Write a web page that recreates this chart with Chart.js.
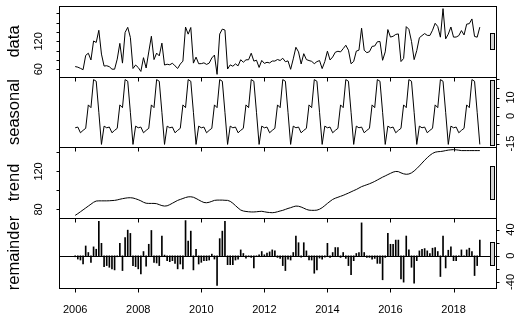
<!DOCTYPE html>
<html><head><meta charset="utf-8">
<script src="https://cdn.jsdelivr.net/npm/chart.js@4.4.1/dist/chart.umd.min.js"></script>
<style>
html,body{margin:0;padding:0;background:#fff;}
#wrap{position:relative;width:528px;height:323px;overflow:hidden;background:#fff;}
canvas{position:absolute;left:0;top:0;}
</style></head><body>
<div id="wrap">
<canvas id="c0" width="528" height="323"></canvas>
<canvas id="c1" width="528" height="323"></canvas>
<canvas id="c2" width="528" height="323"></canvas>
<canvas id="c3" width="528" height="323"></canvas>
</div>
<script>
// ---- data (monthly, Jan 2006 .. Nov 2018) ----
const startYear = 2006;
const yearTicks = [2006, 2008, 2010, 2012, 2014, 2016, 2018];
const panelNames = ["data", "seasonal", "trend", "remainder"];

const dataValues = [
 65.8, 64.5, 61.9, 59.1, 89.8, 94.5, 80.0, 120.8, 117.6, 143.8, 92.6, 66.9,
 67.6, 65.5, 60.2, 60.1, 81.8, 115.7, 73.2, 139.2, 150.2, 128.5, 61.6, 69.1,
 63.8, 55.3, 84.9, 62.7, 97.2, 131.0, 80.8, 94.7, 88.8, 116.2, 69.1, 70.8,
 69.6, 73.0, 67.3, 61.7, 71.2, 77.5, 150.8, 135.5, 149.8, 73.2, 86.1, 71.9,
 72.1, 73.8, 70.4, 73.2, 84.3, 90.5, 49.0, 135.7, 146.3, 144.4, 60.5, 69.4,
 66.5, 71.5, 67.4, 80.5, 75.1, 80.3, 80.5, 94.5, 77.5, 79.5, 63.9, 79.0,
 72.6, 75.0, 73.6, 77.7, 77.6, 81.0, 78.8, 83.7, 76.2, 78.0, 59.9, 82.3,
 107.3, 97.3, 71.4, 93.5, 80.8, 78.7, 77.0, 72.0, 76.4, 78.7, 61.4, 76.5,
 98.9, 80.0, 86.4, 96.6, 98.7, 97.3, 104.3, 111.7, 101.0, 71.8, 76.9, 99.0,
 101.1, 148.3, 100.9, 95.7, 97.8, 109.2, 110.0, 119.1, 119.7, 79.3, 97.4, 145.4,
 129.2, 130.9, 134.9, 136.0, 76.6, 83.2, 151.7, 146.0, 119.7, 80.7, 100.1, 127.8,
 132.4, 136.8, 132.9, 132.7, 143.9, 158.9, 151.8, 129.0, 190.4, 125.4, 135.6, 150.9,
 129.1, 129.3, 132.3, 143.2, 133.8, 157.0, 158.1, 168.2, 130.6, 129.0, 150.6
];

const seasonalValues = [
 -6.4, -6.0, -9.1, -7.8, -6.7, 6.0, 4.5, 19.7, 18.8, 2.0, -15.4, -5.5,
 -6.4, -6.0, -9.1, -7.8, -6.7, 6.0, 4.5, 19.7, 18.8, 2.0, -15.4, -5.5,
 -6.4, -6.0, -9.1, -7.8, -6.7, 6.0, 4.5, 19.7, 18.8, 2.0, -15.4, -5.5,
 -6.4, -6.0, -9.1, -7.8, -6.7, 6.0, 4.5, 19.7, 18.8, 2.0, -15.4, -5.5,
 -6.4, -6.0, -9.1, -7.8, -6.7, 6.0, 4.5, 19.7, 18.8, 2.0, -15.4, -5.5,
 -6.4, -6.0, -9.1, -7.8, -6.7, 6.0, 4.5, 19.7, 18.8, 2.0, -15.4, -5.5,
 -6.4, -6.0, -9.1, -7.8, -6.7, 6.0, 4.5, 19.7, 18.8, 2.0, -15.4, -5.5,
 -6.4, -6.0, -9.1, -7.8, -6.7, 6.0, 4.5, 19.7, 18.8, 2.0, -15.4, -5.5,
 -6.4, -6.0, -9.1, -7.8, -6.7, 6.0, 4.5, 19.7, 18.8, 2.0, -15.4, -5.5,
 -6.4, -6.0, -9.1, -7.8, -6.7, 6.0, 4.5, 19.7, 18.8, 2.0, -15.4, -5.5,
 -6.4, -6.0, -9.1, -7.8, -6.7, 6.0, 4.5, 19.7, 18.8, 2.0, -15.4, -5.5,
 -6.4, -6.0, -9.1, -7.8, -6.7, 6.0, 4.5, 19.7, 18.8, 2.0, -15.4, -5.5,
 -6.4, -6.0, -9.1, -7.8, -6.7, 6.0, 4.5, 19.7, 18.8, 2.0, -15.4
];

const trendValues = [
 73.7, 75.5, 77.5, 79.5, 81.5, 83.5, 85.5, 87.5, 88.8, 89.0, 89.0, 89.0,
 89.0, 89.1, 89.3, 89.5, 90.0, 90.7, 91.3, 91.8, 92.2, 92.3, 92.0, 91.2,
 90.2, 89.0, 87.5, 86.5, 86.3, 86.3, 86.3, 86.0, 85.0, 84.0, 83.5, 83.8,
 85.0, 86.5, 88.0, 89.5, 90.5, 91.5, 92.5, 93.2, 93.3, 92.8, 91.5, 90.0,
 88.5, 87.3, 87.0, 87.5, 88.5, 89.5, 89.8, 89.8, 89.8, 89.6, 89.5, 88.5,
 86.5, 84.0, 81.5, 79.3, 78.3, 77.8, 77.5, 77.3, 77.3, 77.5, 77.8, 78.0,
 77.5, 77.0, 76.7, 76.5, 76.8, 77.5, 78.3, 79.0, 80.0, 81.0, 81.8, 82.8,
 83.5, 83.3, 82.5, 81.3, 80.0, 79.2, 79.0, 79.0, 79.2, 80.2, 81.8, 84.0,
 86.3, 88.5, 90.5, 91.8, 92.8, 93.8, 94.8, 96.0, 97.2, 98.5, 99.8, 101.0,
 102.5, 104.0, 105.0, 106.0, 107.0, 108.2, 109.5, 111.0, 112.5, 114.0, 115.3, 116.7,
 118.0, 119.3, 120.0, 119.8, 118.5, 117.5, 117.0, 117.3, 118.5, 120.5, 123.0, 125.8,
 128.8, 131.8, 134.5, 137.0, 139.0, 140.3, 140.8, 141.0, 141.4, 142.0, 142.5, 142.8,
 143.0, 142.8, 142.4, 142.0, 142.0, 142.0, 142.0, 142.0, 142.0, 142.0, 142.0
];

const remainderValues = [
 -1.5, -5, -6.5, -12.6, 15, 5, -10, 13.6, 10, 52.8, 19, -16.6,
 -15, -17.6, -20, -21.6, -1.5, 19, -22.6, 27.7, 39.2, 34.2, -15, -16.6,
 -20, -27.7, 6.5, -16, 17.6, 38.7, -10, -11, -15, 30.2, 1, -7.5,
 -9, -7.5, -11.6, -20, -12.6, -20, 53.8, 22.6, 37.7, -21.6, 10, -12.6,
 -10, -7.5, -7.5, -6.5, 2.5, -5, -45.3, 26.2, 37.7, 52.8, -13.6, -13.6,
 -13.6, -6.5, -5, 9, 3.5, -3.5, -1.5, -2.5, -18.6, 0, 1.5, 6.5,
 1.5, 4, 6, 9, 7.5, -2.5, -4, -15, -22.6, -5, -6.5, 5,
 30.2, 20, -2, 20, 7.5, -6.5, -6.5, -26.7, -21.6, -3.5, -5, -2,
 19, -2.5, 5, 12.6, 12.6, -2.5, 5, -4, -15, -28.7, -7.5, 3.5,
 5, 50.3, 5, -2.5, -2.5, -5, -4, -11.6, -11.6, -36.7, -2.5, 34.2,
 17.6, 17.6, 24, 24, -35.2, -40.3, 30.2, 9, -17.6, -41.8, -7.5, 7.5,
 10, 11, 7.5, 3.5, 11.6, 12.6, 6.5, -31.7, 30.2, -18.6, 8.5, 13.6,
 -7.5, -7.5, -1, 9, -1.5, 9, 11.6, 6.5, -30.2, -15, 24
];

// tick positions and the labels R printed
const dataTicks = [60, 80, 100, 120, 140, 160, 180];
const dataTickLabels = [60, 120];
const seasonalTicks = [-15, -10, -5, 0, 5, 10, 15, 20];
const seasonalTickLabels = [-15, 0, 10];
const trendTicks = [80, 100, 120, 140];
const trendTickLabels = [80, 120];
const remainderTicks = [-40, -20, 0, 20, 40];
const remainderTickLabels = [-40, 0, 40];

// ---- layout ----
const W = 528, H = 323;
const PLOT_L = 59, PLOT_R = 496;
const panelEdges = [6, 77, 147, 218, 288];
const FONT = '"Liberation Sans", Arial, sans-serif';

const times = dataValues.map((_, i) => startYear + i / 12);
const t0 = times[0], t1 = times[times.length - 1];
const xExt = (t1 - t0) * 0.04;
const xMin = t0 - xExt, xMax = t1 + xExt;

const allSeries = [dataValues, seasonalValues, trendValues, remainderValues];
const ranges = allSeries.map(s => [Math.min(...s), Math.max(...s)]);
const minRange = Math.min(...ranges.map(r => r[1] - r[0]));

function panelPlugin(p) {
  return {
    id: 'rpanel' + p.idx,
    beforeDatasetsDraw(chart) {
      if (p.zeroLine) {
        const {ctx, chartArea: a, scales: {y}} = chart;
        const py = Math.round(y.getPixelForValue(0)) + 0.5;
        ctx.save(); ctx.strokeStyle = '#000'; ctx.lineWidth = 1;
        ctx.beginPath(); ctx.moveTo(a.left, py); ctx.lineTo(a.right, py); ctx.stroke();
        ctx.restore();
      }
    },
    afterDraw(chart) {
      const {ctx, chartArea: a, scales: {x, y}} = chart;
      ctx.save();
      ctx.strokeStyle = '#000'; ctx.fillStyle = '#000'; ctx.lineWidth = 1;
      const L = Math.round(a.left), R = Math.round(a.right), T = Math.round(a.top), B = Math.round(a.bottom);
      ctx.strokeRect(L + 0.5, T + 0.5, R - L, B - T);
      ctx.beginPath();
      for (const t of yearTicks) {
        const px = Math.round(x.getPixelForValue(t)) + 0.5;
        ctx.moveTo(px, B + 0.5); ctx.lineTo(px, B + 4.5);
      }
      ctx.stroke();
      const right = p.side === 'right';
      const ax = right ? R + 0.5 : L + 0.5;
      ctx.beginPath();
      for (const v of p.ticks) {
        const py = Math.round(y.getPixelForValue(v)) + 0.5;
        ctx.moveTo(ax, py); ctx.lineTo(right ? ax + 3 : ax - 3, py);
      }
      ctx.stroke();
      ctx.font = '11px ' + FONT;
      ctx.textAlign = 'center'; ctx.textBaseline = 'middle';
      const lx = right ? R + 15 : L - 20;
      for (const v of p.labels) {
        const py = y.getPixelForValue(v);
        ctx.save(); ctx.translate(lx, py); ctx.rotate(-Math.PI / 2);
        ctx.fillText(String(v), 0, 0); ctx.restore();
      }
      ctx.font = '16.5px ' + FONT;
      ctx.save(); ctx.translate(14.5, (T + B) / 2); ctx.rotate(-Math.PI / 2);
      ctx.fillText(p.title, 0, 0); ctx.restore();
      const dx = (xMax - xMin) / 64;
      const bx0 = x.getPixelForValue(xMax - dx), bx1 = x.getPixelForValue(xMax - 0.4 * dx);
      const yc = (p.range[0] + p.range[1]) / 2;
      const by0 = y.getPixelForValue(yc + minRange / 2), by1 = y.getPixelForValue(yc - minRange / 2);
      const rx = Math.round(bx0) + 1.5, rw = Math.round(bx1 - bx0);
      ctx.fillStyle = '#d3d3d3';
      ctx.fillRect(rx, Math.round(by0) + 0.5, rw, Math.round(by1 - by0));
      ctx.strokeRect(rx, Math.round(by0) + 0.5, rw, Math.round(by1 - by0));
      ctx.fillStyle = '#000';
      if (p.last) {
        ctx.font = '11px ' + FONT;
        for (const t of yearTicks) {
          ctx.fillText(String(t), x.getPixelForValue(t), 310);
        }
      }
      ctx.restore();
    }
  };
}

const panels = [
  {idx: 0, id: 'c0', side: 'left', type: 'line', values: dataValues, ticks: dataTicks, labels: dataTickLabels, title: panelNames[0]},
  {idx: 1, id: 'c1', side: 'right', type: 'line', values: seasonalValues, ticks: seasonalTicks, labels: seasonalTickLabels, title: panelNames[1]},
  {idx: 2, id: 'c2', side: 'left', type: 'line', values: trendValues, ticks: trendTicks, labels: trendTickLabels, title: panelNames[2]},
  {idx: 3, id: 'c3', side: 'right', type: 'bar', values: remainderValues, ticks: remainderTicks, labels: remainderTickLabels, title: panelNames[3], last: true, zeroLine: true}
];

panels.forEach((p, k) => {
  const top = panelEdges[k], bottom = panelEdges[k + 1];
  const lo = Math.min(...p.values), hi = Math.max(...p.values);
  const ext = (hi - lo) * 0.04;
  p.range = [lo, hi];
  const ds = p.type === 'line'
    ? {data: p.values.map((v, i) => ({x: times[i], y: v})), borderColor: '#000', borderWidth: 1,
       pointRadius: 0, tension: 0, fill: false}
    : {data: p.values.map((v, i) => ({x: times[i], y: v})), backgroundColor: '#000', borderWidth: 0,
       barThickness: 1, grouped: false};
  new Chart(document.getElementById(p.id), {
    type: p.type,
    data: {datasets: [ds]},
    options: {
      responsive: false, animation: false, events: [],
      layout: {padding: {left: PLOT_L, right: W - PLOT_R, top: top, bottom: H - bottom}},
      plugins: {legend: {display: false}, tooltip: {enabled: false}},
      scales: {
        x: {type: 'linear', display: false, min: xMin, max: xMax, offset: false},
        y: {type: 'linear', display: false, min: lo - ext, max: hi + ext}
      }
    },
    plugins: [panelPlugin(p)]
  });
});
</script>
</body></html>
